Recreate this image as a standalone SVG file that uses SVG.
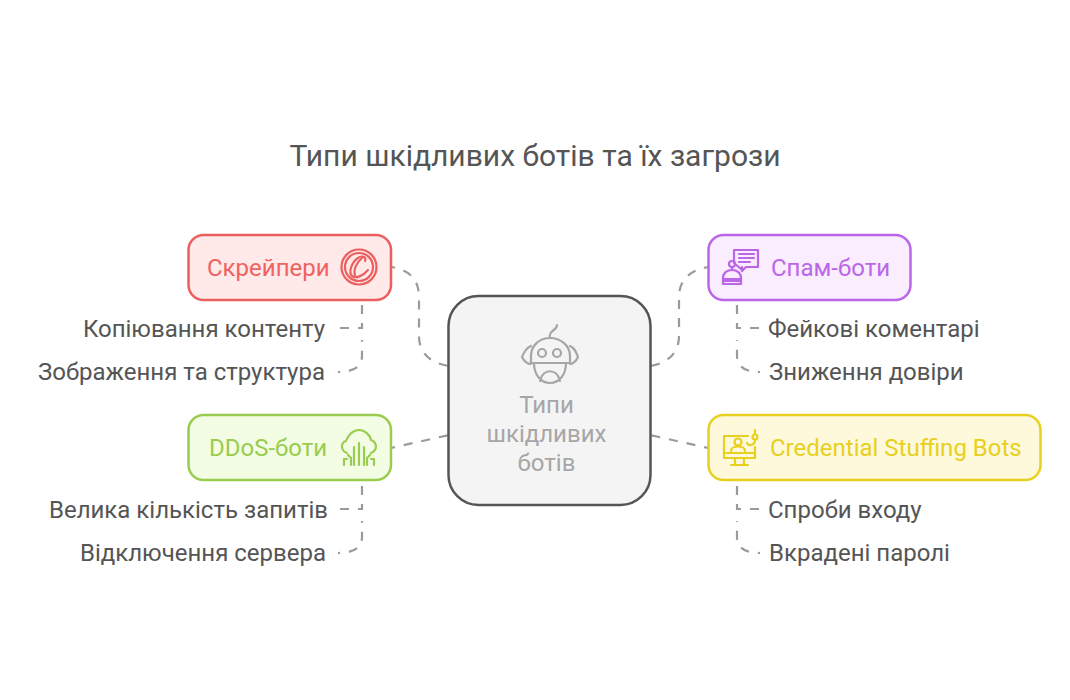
<svg xmlns="http://www.w3.org/2000/svg" width="1070" height="700" viewBox="0 0 1070 700">
<style>
text{font-family:Roboto,"Liberation Sans",sans-serif}
.t{font-size:24px;fill:#555}
.l{font-size:24px}
.c{fill:none;stroke:#9a9a9a;stroke-width:2.200;stroke-dasharray:9 9}
.i{fill:none;stroke-width:2.200;stroke-linecap:round;stroke-linejoin:round}
</style>
<rect width="1070" height="700" fill="#fff"/>
<text x="535" y="166" font-size="30" fill="#555" text-anchor="middle" id="title">Типи шкідливих ботів та їх загрози</text>
<g id="connectors">
<path class="c" stroke-dashoffset="5" d="M391 267C410 270 419 280 419 297V336C419 353 430 363 449 366"/>
<path class="c" stroke-dashoffset="5" d="M708 267C690 270 679 280 679 297V336C679 353 668 363 650 366"/>
<path class="c" stroke-dashoffset="5" d="M391 448L449 435"/>
<path class="c" stroke-dashoffset="5" d="M708 448L650 435"/>
<path class="c" d="M340 328H362V300"/>
<path class="c" stroke-dashoffset="7" d="M338 372C355 372 362 366 362 356V340"/>
<path class="c" d="M340 509H362V480"/>
<path class="c" stroke-dashoffset="7" d="M338 553C355 553 362 547 362 537V521"/>
<path class="c" d="M759 328H737V300"/>
<path class="c" stroke-dashoffset="7" d="M760 372C744 372 737 366 737 356V340"/>
<path class="c" d="M759 509H737V480"/>
<path class="c" stroke-dashoffset="7" d="M760 553C744 553 737 547 737 537V521"/>
</g>
<g id="center">
<rect x="448.500" y="296" width="202" height="209" rx="30" fill="#f4f4f4" stroke="#555" stroke-width="2.500"/>
<g class="i" stroke="#a6a6a6">
<path d="M531 363V356C531 345 540 338 550 338S570 345 570 356V363Z"/>
<path d="M534 363C534 375 541 383 550 383S566 375 566 363M540 381C543 368 557 368 560 381"/>
<circle cx="542" cy="353" r="4"/><circle cx="557" cy="353" r="4"/>
<path d="M531 346C526 348 524 352 522 357 524 361 527 364 531 364M570 346C575 348 576 352 578 357 576 361 574 364 570 364"/>
<path d="M550 338C548 330 557 331 557 325"/>
</g>
<text x="546.500" y="412.500" class="l" fill="#a6a6a6" text-anchor="middle">Типи</text>
<text x="546.500" y="441.500" class="l" fill="#a6a6a6" text-anchor="middle">шкідливих</text>
<text x="546.500" y="470.500" class="l" fill="#a6a6a6" text-anchor="middle">ботів</text>
</g>
<g id="scrapers">
<rect x="188.500" y="235" width="202.500" height="65" rx="15" fill="#ffe9e9" stroke="#ec5f5f" stroke-width="2.500"/>
<text x="207" y="275.500" class="l" fill="#f0625f">Скрейпери</text>
<g class="i" stroke="#ec5f5f">
<circle cx="359" cy="267" r="17.500"/><circle cx="359" cy="267" r="14"/>
<path d="M365 261C367 257 362 255 358 258 352 262 348 272 352 276 356 279 363 276 368 270"/>
<path d="M362 258C357 262 353 270 355 275"/>
</g>
</g>
<g id="spam">
<rect x="708.500" y="235" width="202" height="65" rx="15" fill="#f9edff" stroke="#bb66e8" stroke-width="2.500"/>
<text x="771" y="275.500" class="l" fill="#bb66e8">Спам-боти</text>
<g class="i" stroke="#bb66e8">
<path d="M734 262V250H758V267H746L742 271V267"/>
<path d="M739 254H754M739 258H754M739 262H750"/>
<circle cx="732" cy="264" r="3"/>
<path d="M732 267V270M723 284V278C723 273 727 270 732 270S741 273 741 278V284ZM723 279H741M723 281H741M734 263L741 269"/>
</g>
</g>
<g id="ddos">
<rect x="188.500" y="415" width="202.500" height="65" rx="15" fill="#f2fde4" stroke="#99cc4f" stroke-width="2.500"/>
<text x="209" y="455.500" class="l" fill="#99cc4f">DDoS-боти</text>
<g class="i" stroke="#99cc4f">
<path d="M347 453C341 451 340 443 346 441 348 435 353 430 359 430 365 430 370 435 371 440 377 442 378 450 371 453"/>
<path d="M359 443V465M354 447V465M364 447V465M348 455 351 458V465M370 455 367 458V465M344 459H347M371 459H374M344 459V465M374 459V465"/>
</g>
</g>
<g id="credential">
<rect x="708.500" y="415" width="332" height="65" rx="15" fill="#fef9da" stroke="#e8d020" stroke-width="2.500"/>
<text x="770" y="455.500" class="l" fill="#e8d020">Credential Stuffing Bots</text>
<g class="i" stroke="#e8d020">
<path d="M748 436H724V458H755V447M724 453H755M735 458V464M744 458V464M731 465H748"/>
<circle cx="738" cy="442" r="3.500"/><path d="M731 451C731 445 745 445 745 451"/>
<circle cx="755" cy="437" r="2.500"/><path d="M755 430V434M755 440C755 446 748 446 747 443"/>
</g>
</g>
<g id="leaves">
<text class="t" x="325" y="336.500" text-anchor="end">Копіювання контенту</text>
<text class="t" x="325" y="380" text-anchor="end">Зображення та структура</text>
<text class="t" x="328" y="517.500" text-anchor="end">Велика кількість запитів</text>
<text class="t" x="326" y="561" text-anchor="end">Відключення сервера</text>
<text class="t" x="768" y="336.500">Фейкові коментарі</text>
<text class="t" x="769" y="380">Зниження довіри</text>
<text class="t" x="768" y="517.500">Спроби входу</text>
<text class="t" x="769" y="561">Вкрадені паролі</text>
</g>
</svg>
